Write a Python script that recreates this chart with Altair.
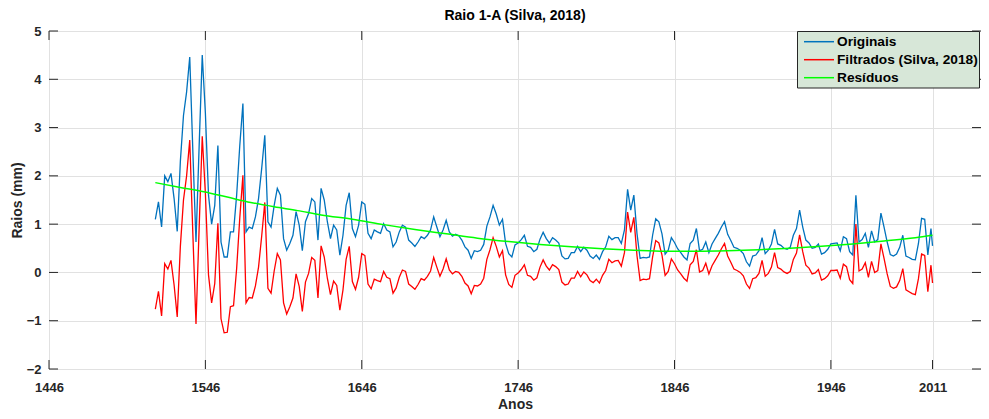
import altair as alt
import pandas as pd

# ---------------- data ----------------
anos = list(range(1514, 2011, 2)) + [2011]

originais = [
    1.10, 1.46, 0.94, 2.00, 1.88, 2.05, 1.53, 0.85, 2.30, 3.25,
    3.74, 4.46, 2.50, 0.63, 2.60, 4.50, 3.30, 1.60, 1.00, 1.39,
    2.63, 0.63, 0.32, 0.32, 0.84, 0.84, 1.60, 2.63, 3.50, 0.84,
    0.94, 0.91, 1.15, 1.53, 2.15, 2.84, 1.05, 0.94, 1.39, 1.74,
    1.60, 0.70, 0.46, 0.60, 0.77, 1.26, 0.98, 0.45, 1.05, 1.22,
    1.53, 1.46, 0.67, 1.74, 1.50, 1.05, 0.70, 0.98, 0.88, 0.36,
    0.77, 1.39, 1.65, 0.91, 0.74, 0.98, 1.46, 1.41, 0.81, 0.70,
    0.88, 0.84, 0.81, 1.01, 0.88, 0.84, 0.53, 0.63, 0.84, 0.98,
    0.94, 0.67, 0.61, 0.54, 0.63, 0.74, 0.70, 0.77, 0.88, 1.15,
    0.94, 0.74, 0.88, 1.08, 0.84, 0.75, 0.79, 0.76, 0.67, 0.53,
    0.46, 0.29, 0.45, 0.43, 0.46, 0.58, 0.96, 1.15, 1.39, 1.21,
    0.98, 1.10, 0.60, 0.39, 0.32, 0.57, 0.61, 0.68, 0.77, 0.54,
    0.52, 0.43, 0.48, 0.69, 0.83, 0.70, 0.61, 0.72, 0.67, 0.61,
    0.34, 0.28, 0.29, 0.41, 0.41, 0.54, 0.43, 0.52, 0.46, 0.34,
    0.29, 0.36, 0.27, 0.43, 0.53, 0.75, 0.68, 0.72, 0.72, 0.60,
    0.88, 1.72, 1.29, 1.60, 0.81, 0.29, 0.31, 0.30, 0.32, 0.77,
    1.11, 1.05, 0.80, 0.38, 0.46, 0.72, 0.62, 0.49, 0.41, 0.32,
    0.26, 0.60, 0.67, 0.91, 0.45, 0.48, 0.63, 0.41, 0.59, 0.70,
    0.81, 0.94, 1.05, 0.79, 0.66, 0.52, 0.50, 0.46, 0.39, 0.22,
    0.13, 0.34, 0.36, 0.45, 0.72, 0.39, 0.46, 0.59, 0.89, 0.59,
    0.56, 0.50, 0.48, 0.52, 0.77, 0.91, 1.29, 0.94, 0.67, 0.61,
    0.50, 0.52, 0.59, 0.38, 0.41, 0.48, 0.59, 0.60, 0.61, 0.45,
    0.74, 0.70, 0.43, 0.36, 1.60, 0.63, 0.68, 0.81, 0.52, 0.86,
    0.63, 0.68, 1.23, 0.94, 0.63, 0.37, 0.34, 0.38, 0.52, 0.77,
    0.34, 0.31, 0.27, 0.26, 0.60, 1.12, 1.10, 0.36, 0.91, 0.55,
]

filtrados = [
    -0.76, -0.39, -0.90, 0.18, 0.07, 0.25, -0.26, -0.92, 0.54, 1.50,
    2.00, 2.74, 0.79, -1.07, 0.91, 2.82, 1.64, -0.05, -0.63, -0.23,
    1.02, -0.96, -1.25, -1.24, -0.71, -0.69, 0.08, 1.13, 2.01, -0.63,
    -0.52, -0.53, -0.28, 0.11, 0.75, 1.45, -0.33, -0.43, 0.03, 0.39,
    0.26, -0.63, -0.86, -0.71, -0.53, -0.03, -0.29, -0.81, -0.20, -0.02,
    0.31, 0.25, -0.53, 0.55, 0.32, -0.12, -0.46, -0.18, -0.27, -0.78,
    -0.36, 0.27, 0.54, -0.19, -0.35, -0.10, 0.39, 0.35, -0.24, -0.34,
    -0.14, -0.17, -0.19, 0.02, -0.10, -0.13, -0.43, -0.32, -0.10, 0.05,
    0.02, -0.24, -0.29, -0.35, -0.25, -0.13, -0.16, -0.08, 0.03, 0.31,
    0.11, -0.08, 0.07, 0.28, 0.05, -0.03, 0.02, 0.00, -0.08, -0.22,
    -0.28, -0.44, -0.27, -0.28, -0.24, -0.12, 0.27, 0.47, 0.72, 0.54,
    0.32, 0.45, -0.05, -0.25, -0.31, -0.06, -0.01, 0.06, 0.16, -0.06,
    -0.08, -0.16, -0.11, 0.11, 0.26, 0.13, 0.05, 0.16, 0.12, 0.06,
    -0.20, -0.26, -0.24, -0.12, -0.12, 0.02, -0.09, 0.01, -0.05, -0.17,
    -0.21, -0.14, -0.22, -0.06, 0.04, 0.27, 0.20, 0.24, 0.25, 0.13,
    0.41, 1.25, 0.83, 1.14, 0.35, -0.17, -0.14, -0.15, -0.13, 0.32,
    0.66, 0.61, 0.36, -0.06, 0.02, 0.28, 0.18, 0.05, -0.03, -0.12,
    -0.18, 0.16, 0.23, 0.47, 0.01, 0.04, 0.19, -0.03, 0.14, 0.25,
    0.36, 0.49, 0.60, 0.34, 0.21, 0.07, 0.04, 0.00, -0.07, -0.24,
    -0.33, -0.13, -0.11, -0.02, 0.25, -0.08, -0.02, 0.11, 0.41, 0.10,
    0.07, 0.01, -0.02, 0.02, 0.27, 0.40, 0.78, 0.43, 0.15, 0.09,
    -0.03, -0.01, 0.06, -0.16, -0.13, -0.07, 0.04, 0.04, 0.05, -0.12,
    0.17, 0.12, -0.15, -0.23, 1.00, 0.03, 0.07, 0.20, -0.10, 0.23,
    0.00, 0.04, 0.59, 0.29, -0.03, -0.29, -0.33, -0.30, -0.17, 0.08,
    -0.36, -0.40, -0.44, -0.46, -0.13, 0.38, 0.35, -0.40, 0.15, -0.22,
]

anos_residuos = [1514, 1530, 1545, 1560, 1575, 1590, 1605, 1620, 1640, 1660,
                 1680, 1700, 1720, 1740, 1760, 1780, 1800, 1820, 1840, 1860,
                 1880, 1900, 1920, 1940, 1960, 1980, 2000, 2011]
residuos = [1.86, 1.76, 1.67, 1.56, 1.45, 1.36, 1.28, 1.19, 1.10, 0.99,
            0.89, 0.80, 0.71, 0.64, 0.58, 0.53, 0.49, 0.46, 0.44, 0.44,
            0.45, 0.47, 0.50, 0.54, 0.59, 0.65, 0.72, 0.77]

x_ticks = [1446, 1546, 1646, 1746, 1846, 1946, 2011]
y_ticks = [-2, -1, 0, 1, 2, 3, 4, 5]

S1, S2, S3 = "Originais", "Filtrados (Silva, 2018)", "Resíduos"
series = [S1, S2, S3]
cores = ["#0072BD", "#FF0000", "#00FF00"]

df_o = pd.DataFrame({"ano": anos, "valor": originais, "serie": S1})
df_f = pd.DataFrame({"ano": anos, "valor": filtrados, "serie": S2})
df_r = pd.DataFrame({"ano": anos_residuos, "valor": residuos, "serie": S3})
df_xt = pd.DataFrame({"ano": x_ticks})
df_yt = pd.DataFrame({"valor": y_ticks})

# ---------------- chart ----------------
W, H = 932, 338
FONT = "Liberation Sans"
AX = "#262626"

xs = alt.Scale(domain=[1446, 2042], nice=False, zero=False)
ys = alt.Scale(domain=[-2, 5], nice=False, zero=False)

x_axis = alt.Axis(values=x_ticks, format="d", title="Anos", grid=True,
                  gridColor="#e1e1e1", gridWidth=1, domain=False, ticks=False,
                  labelFont=FONT, labelFontSize=13, labelFontWeight="bold",
                  labelColor=AX, labelPadding=12, labelFlush=False,
                  titleFont=FONT, titleFontSize=14, titleFontWeight="bold",
                  titleColor=AX, titleY=28, titleBaseline="top")
y_axis = alt.Axis(values=y_ticks, title="Raios (mm)", grid=True,
                  gridColor="#e1e1e1", gridWidth=1, domain=False, ticks=False,
                  labelFont=FONT, labelFontSize=13, labelFontWeight="bold",
                  labelColor=AX, labelPadding=8, labelFlush=False,
                  titleFont=FONT, titleFontSize=14, titleFontWeight="bold",
                  titleColor=AX, titleX=-32, titleBaseline="middle")

X = alt.X("ano:Q", scale=xs, axis=x_axis)
Y = alt.Y("valor:Q", scale=ys, axis=y_axis)
cscale = alt.Scale(domain=series, range=cores)
color = alt.Color("serie:N", scale=cscale, legend=None)

l_o = alt.Chart(df_o).mark_line(strokeWidth=1.3).encode(x=X, y=Y, color=color)
l_f = alt.Chart(df_f).mark_line(strokeWidth=1.3).encode(x=X, y=Y, color=color)
l_r = alt.Chart(df_r).mark_line(strokeWidth=1.5, interpolate="monotone").encode(x=X, y=Y, color=color)

# inward tick marks on all four sides (MATLAB box style)
tick_b = alt.Chart(df_xt).mark_rule(color=AX, strokeWidth=1).encode(
    x=X, y=alt.value(H), y2=alt.value(H - 9))
tick_t = alt.Chart(df_xt).mark_rule(color=AX, strokeWidth=1).encode(
    x=X, y=alt.value(0), y2=alt.value(9))
tick_l = alt.Chart(df_yt).mark_rule(color=AX, strokeWidth=1).encode(
    y=Y, x=alt.value(0), x2=alt.value(9))
tick_r = alt.Chart(df_yt).mark_rule(color=AX, strokeWidth=1).encode(
    y=Y, x=alt.value(W), x2=alt.value(W - 9))

# legend box (top-right, inside the axes)
LX0, LX1, LY0, LY1 = 748.5, 930.5, 0.5, 57
leg_box = alt.Chart(pd.DataFrame({"k": [0]})).mark_rect(
    fill="#d7e7d8", stroke=AX, strokeWidth=1).encode(
    x=alt.value(LX0), x2=alt.value(LX1), y=alt.value(LY0), y2=alt.value(LY1))

leg_layers = []
for i, s in enumerate(series):
    d = pd.DataFrame({"serie": [s]})
    yy = 10.7 + 18 * i
    leg_layers.append(
        alt.Chart(d).mark_rule(strokeWidth=1.5).encode(
            x=alt.value(755), x2=alt.value(785), y=alt.value(yy), color=color))
    leg_layers.append(
        alt.Chart(d).mark_text(align="left", baseline="middle", font=FONT,
                               fontSize=13.7, fontWeight="bold", color="black").encode(
            x=alt.value(788), y=alt.value(yy + 0.5), text="serie:N"))

chart = (
    alt.layer(l_o, l_f, l_r, tick_b, tick_t, tick_l, tick_r, leg_box, *leg_layers)
    .properties(
        width=W, height=H,
        title=alt.TitleParams("Raio 1-A (Silva, 2018)", font=FONT, fontSize=14,
                              fontWeight="bold", color="black", anchor="middle",
                              offset=2),
        autosize=alt.AutoSizeParams(type="none"),
        padding={"left": 41, "top": 23, "right": 0, "bottom": 42},
    )
    .configure_view(stroke=AX, strokeWidth=1)
    .configure(background="white")
)

chart.save("out.html", embed_options={"renderer": "svg", "actions": False})
